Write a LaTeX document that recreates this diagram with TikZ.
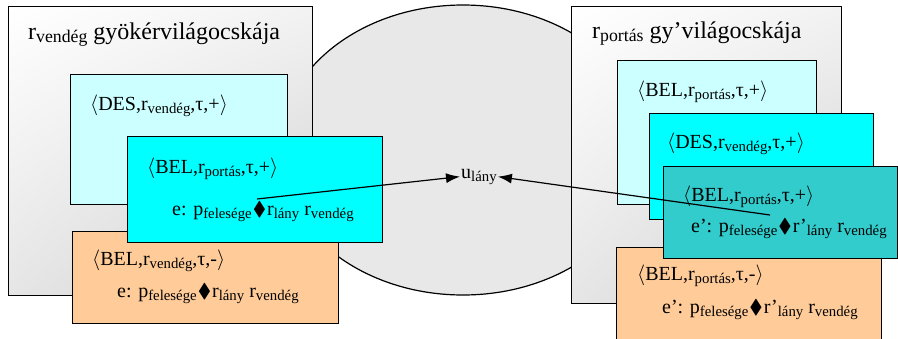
\documentclass[tikz,border=0pt]{standalone}
\usepackage{amssymb}
\usepackage{fontspec}
\setmainfont{Liberation Serif}
\usetikzlibrary{arrows.meta,shapes.geometric,shadings}

\definecolor{paleblue}{HTML}{CCFFFF}
\definecolor{brightcyan}{HTML}{00FFFF}
\definecolor{darkcyan}{HTML}{33CCCC}
\definecolor{peach}{HTML}{FFCC99}
\definecolor{cloudgray}{HTML}{E8E8E8}

\newcommand{\ix}[1]{\raisebox{-0.35ex}{\scalebox{0.74}{#1}}}
\newcommand{\dia}{\hspace{1pt}$\blacklozenge$\hspace{1pt}}

\begin{document}
\begin{tikzpicture}[x=1pt, y=-1pt,
    box/.style = {draw, line width=1.2pt, anchor=north west, inner sep=0pt},
    world/.style = {box, upper left=white, upper right=gray!10, lower left=gray!20, lower right=gray!38},
    txt/.style = {anchor=base west, inner sep=0pt, font=\fontsize{20}{22}\selectfont},
    title/.style = {anchor=base west, inner sep=0pt, font=\fontsize{24}{26}\selectfont},
    arr/.style = {line width=1.2pt, -{Latex[length=14pt, width=10pt]}}]
    \useasboundingbox (0,0) rectangle (898,338);

    % the shared belief ellipse
    \node[draw, ellipse, line width=1.2pt, fill=cloudgray, minimum width=368pt, minimum height=290pt] (cloud) at (463,150) {};

    % left world
    \node[world, minimum width=304pt, minimum height=289pt] (worldL) at (8,6) {};
    \node[title] (titleL) at (28,39) {r\ix{vendég} gyökérvilágocskája};
    \node[box, fill=paleblue, minimum width=217pt, minimum height=130pt] (desL) at (70,74) {};
    \node[txt] (desLt) at (90,110) {$\langle$DES,r\ix{vendég},τ,+$\rangle$};
    \node[box, fill=peach, minimum width=266pt, minimum height=92pt] (negL) at (72,231) {};
    \node[txt] (negLt) at (92,265) {$\langle$BEL,r\ix{vendég},τ,-$\rangle$};
    \node[txt] (negLe) at (117,297) {e: p\ix{felesége}\dia r\ix{lány} r\ix{vendég}};
    \node[box, fill=brightcyan, minimum width=255pt, minimum height=106pt] (belL) at (127,136) {};
    \node[txt] (belLt) at (147,173) {$\langle$BEL,r\ix{portás},τ,+$\rangle$};
    \node[txt] (belLe) at (172,215) {e: p\ix{felesége}\dia r\ix{lány} r\ix{vendég}};

    % right world
    \node[world, minimum width=270pt, minimum height=297pt] (worldR) at (571,6) {};
    \node[title] (titleR) at (592,38) {r\ix{portás} gy’világocskája};
    \node[box, fill=paleblue, minimum width=199pt, minimum height=144pt] (belR) at (617,60) {};
    \node[txt] (belRt) at (637,96) {$\langle$BEL,r\ix{portás},τ,+$\rangle$};
    \node[box, fill=brightcyan, minimum width=224pt, minimum height=106pt] (desR) at (649,113) {};
    \node[txt] (desRt) at (667,148) {$\langle$DES,r\ix{vendég},τ,+$\rangle$};
    \node[box, fill=peach, minimum width=265pt, minimum height=100pt] (negR) at (616,247) {};
    \node[txt] (negRt) at (637,280) {$\langle$BEL,r\ix{portás},τ,-$\rangle$};
    \node[txt] (negRe) at (662,313) {e’: p\ix{felesége}\dia r’\ix{lány} r\ix{vendég}};
    \node[box, fill=darkcyan, minimum width=234pt, minimum height=92pt] (belR2) at (663,166) {};
    \node[txt] (belR2t) at (683,201) {$\langle$BEL,r\ix{portás},τ,+$\rangle$};
    \node[txt] (belR2e) at (691,232) {e’: p\ix{felesége}\dia r’\ix{lány} r\ix{vendég}};

    % the shared object
    \node[txt, inner sep=1pt] (u) at (460,178) {u\ix{lány}};

    \coordinate (eL) at (257,199);
    \coordinate (eR) at (770,215);
    \draw[arr] (eL) -- (u.west);
    \draw[arr] (eR) -- (u.east);
\end{tikzpicture}
\end{document}
